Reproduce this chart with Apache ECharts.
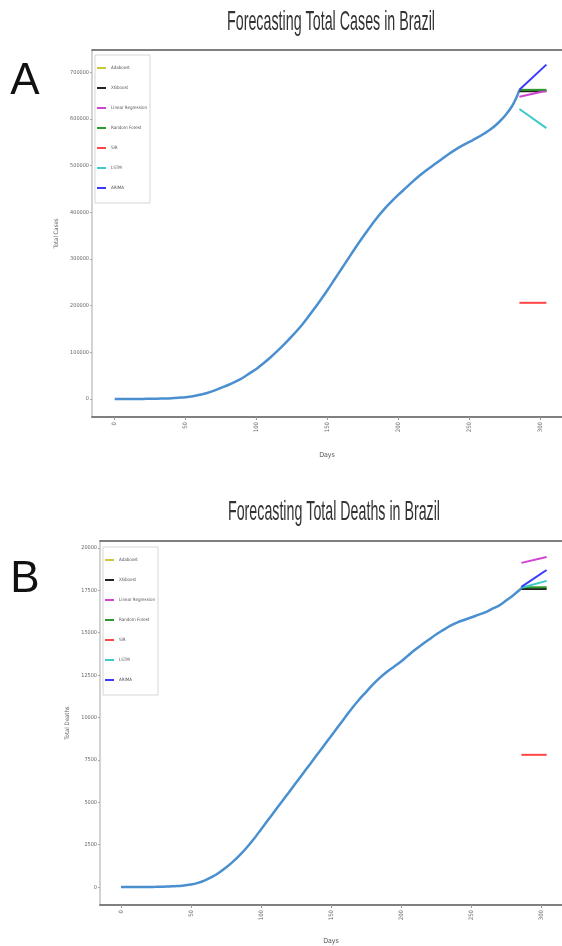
<!DOCTYPE html>
<html>
<head>
<meta charset="utf-8">
<script src="https://cdn.jsdelivr.net/npm/echarts@6/dist/echarts.min.js"></script>
<style>
  html, body { margin: 0; padding: 0; background: #fff; }
  #chart { width: 562px; height: 946px; }
</style>
</head>
<body>
<div id="chart"></div>
<script>
// actual totals
var casesDays = [0, 5, 10, 15, 20, 25, 30, 35, 40, 45, 50, 55, 60, 65, 70, 75, 80, 85, 90, 95, 100, 105, 110, 115, 120, 125, 130, 135, 140, 145, 150, 155, 160, 165, 170, 175, 180, 185, 190, 195, 200, 205, 210, 215, 220, 225, 230, 235, 240, 245, 250, 255, 260, 265, 270, 275, 280, 283, 285]
var casesTotal = [0, 0, 100, 200, 300, 500, 800, 1200, 1800, 2800, 4000, 6000, 9000, 13000, 18000, 24000, 30000, 37000, 45000, 55000, 65000, 77000, 90000, 104000, 119000, 135000, 152000, 171000, 191000, 212000, 234000, 257000, 280000, 303000, 326000, 348000, 369000, 389000, 407000, 423000, 438000, 452000, 466000, 479000, 491000, 502000, 513000, 524000, 534000, 543000, 551000, 559000, 568000, 578000, 591000, 607000, 628000, 646000, 662000]
var deathsDays = [0, 5, 10, 15, 20, 25, 30, 35, 40, 45, 50, 55, 60, 65, 70, 75, 80, 85, 90, 95, 100, 105, 110, 115, 120, 125, 130, 135, 140, 145, 150, 155, 160, 165, 170, 175, 180, 185, 190, 195, 200, 205, 210, 215, 220, 225, 230, 235, 240, 245, 250, 255, 260, 265, 270, 275, 280, 285, 287]
var deathsTotal = [0, 0, 0, 5, 10, 15, 25, 40, 60, 100, 150, 250, 400, 600, 850, 1150, 1500, 1900, 2350, 2850, 3400, 3950, 4500, 5050, 5600, 6150, 6700, 7250, 7800, 8350, 8900, 9450, 10000, 10550, 11050, 11500, 11950, 12350, 12700, 13000, 13300, 13650, 14000, 14300, 14600, 14900, 15150, 15400, 15600, 15750, 15900, 16050, 16200, 16400, 16600, 16900, 17200, 17550, 17700]

// forecasts: one start and one end value per model
var models = ['Adaboost', 'XGboost', 'Linear Regression', 'Random Forest', 'SIR', 'LSTM', 'ARIMA']
var casesForecastDays = [285, 304]
var casesForecastStart = [660000, 659000, 647000, 662000, 206000, 621000, 662000]
var casesForecastEnd = [660000, 659000, 660000, 662000, 206000, 580000, 716000]
var deathsForecastDays = [286, 304]
var deathsForecastStart = [17650, 17580, 19120, 17680, 7800, 17650, 17700]
var deathsForecastEnd = [17650, 17580, 19470, 17680, 7800, 18060, 18700]

// tick labels
var dayTicks = [0, 50, 100, 150, 200, 250, 300]
var casesTicks = [0, 100000, 200000, 300000, 400000, 500000, 600000, 700000]
var deathsTicks = [0, 2500, 5000, 7500, 10000, 12500, 15000, 17500, 20000]

var modelColors = ['#c8c83a', '#222222', '#d043d0', '#2e9a2e', '#ff4545', '#3ccaca', '#3a3aff']
var actualColor = '#4a8fcf'
var smallFont = "'Liberation Sans Narrow', 'DejaVu Sans Condensed', 'Liberation Sans', sans-serif"
var titleFont = "'Liberation Sans', Arial, sans-serif"

var chart = echarts.init(document.getElementById('chart'), null, { renderer: 'canvas' })

// squeeze the titles to the narrow width they have in the picture
function squeeze(text, px, target) {
  var ctx = document.createElement('canvas').getContext('2d')
  ctx.font = px + 'px ' + titleFont
  return target / ctx.measureText(text).width
}

function zip(xs, ys) {
  return xs.map(function (x, i) { return [x, ys[i]] })
}

function panelSeries(idx, days, totals, fDays, fStart, fEnd) {
  var list = [{
    name: 'Actual',
    type: 'line',
    xAxisIndex: idx,
    yAxisIndex: idx,
    data: zip(days, totals),
    showSymbol: false,
    smooth: 0.3,
    lineStyle: { color: actualColor, width: 2.5 },
    itemStyle: { color: actualColor },
    silent: true
  }]
  models.forEach(function (m, k) {
    list.push({
      name: m,
      type: 'line',
      xAxisIndex: idx,
      yAxisIndex: idx,
      data: [[fDays[0], fStart[k]], [fDays[1], fEnd[k]]],
      showSymbol: false,
      lineStyle: { color: modelColors[k], width: 2 },
      itemStyle: { color: modelColors[k] },
      silent: true
    })
  })
  return list
}

function bottomAxis(idx, min, max, gap) {
  return {
    gridIndex: idx,
    type: 'value',
    min: min,
    max: max,
    axisLine: { show: true, onZero: false, lineStyle: { color: '#808080', width: 2 } },
    axisTick: { show: true, customValues: dayTicks, length: 3, lineStyle: { color: '#999' } },
    axisLabel: { customValues: dayTicks, rotate: 90, fontSize: 6, color: '#666', margin: 5, fontFamily: smallFont },
    splitLine: { show: false },
    name: 'Days',
    nameLocation: 'middle',
    nameGap: gap,
    nameTextStyle: { fontSize: 7, color: '#555', fontFamily: smallFont }
  }
}

function topAxis(idx, min, max) {
  return {
    gridIndex: idx,
    type: 'value',
    position: 'top',
    min: min,
    max: max,
    axisLine: { show: true, onZero: false, lineStyle: { color: '#555', width: 1.5 } },
    axisTick: { show: false },
    axisLabel: { show: false },
    splitLine: { show: false }
  }
}

function leftAxis(idx, min, max, ticks, name, gap) {
  return {
    gridIndex: idx,
    type: 'value',
    min: min,
    max: max,
    axisLine: { show: true, onZero: false, lineStyle: { color: '#c4c4c4', width: 1.5 } },
    axisTick: { show: true, customValues: ticks, length: 2, lineStyle: { color: '#aaa' } },
    axisLabel: {
      customValues: ticks,
      fontSize: 5.5,
      color: '#666',
      margin: 3,
      fontFamily: smallFont,
      formatter: function (v) { return String(v) }
    },
    splitLine: { show: false },
    name: name,
    nameLocation: 'middle',
    nameGap: gap,
    nameTextStyle: { fontSize: 6, color: '#666', fontFamily: smallFont }
  }
}

function legendBox(left, top) {
  return {
    data: models,
    orient: 'vertical',
    left: left,
    top: top,
    padding: [9, 3, 11, 2],
    itemGap: 12,
    itemWidth: 9,
    itemHeight: 2,
    icon: 'rect',
    backgroundColor: '#fff',
    borderColor: '#d6d6d6',
    borderWidth: 1,
    textStyle: { fontSize: 4.5, lineHeight: 8, color: '#555', fontFamily: smallFont },
    selectedMode: false
  }
}

var titleA = 'Forecasting Total Cases in Brazil'
var titleB = 'Forecasting Total Deaths in Brazil'

function titleText(text, x, y, target) {
  return {
    type: 'text',
    x: x,
    y: y,
    scaleX: squeeze(text, 28, target),
    style: {
      text: text,
      font: '28px ' + titleFont,
      fill: '#333',
      textAlign: 'center',
      align: 'center',
      textVerticalAlign: 'middle',
      verticalAlign: 'middle'
    }
  }
}

function panelLetter(text, x, y) {
  return {
    type: 'text',
    x: x,
    y: y,
    style: {
      text: text,
      font: '44px ' + titleFont,
      fill: '#111',
      textAlign: 'center',
      align: 'center',
      textVerticalAlign: 'middle',
      verticalAlign: 'middle'
    }
  }
}

var option = {
  backgroundColor: '#fff',
  animation: false,
  graphic: [
    titleText(titleA, 331, 22, 208),
    titleText(titleB, 334, 512, 212),
    panelLetter('A', 25, 82),
    panelLetter('B', 25, 580)
  ],
  legend: [legendBox(95, 55), legendBox(103, 547)],
  grid: [
    { left: 92, top: 50, width: 472, height: 367 },
    { left: 100, top: 541, width: 464, height: 366 }
  ],
  xAxis: [
    bottomAxis(0, -16, 315, 35),
    bottomAxis(1, -15, 315, 33),
    topAxis(0, -16, 315),
    topAxis(1, -15, 315)
  ],
  yAxis: [
    leftAxis(0, -38500, 747300, casesTicks, 'Total Cases', 26),
    leftAxis(1, -1056, 20410, deathsTicks, 'Total Deaths', 25)
  ],
  series: panelSeries(0, casesDays, casesTotal, casesForecastDays, casesForecastStart, casesForecastEnd)
    .concat(panelSeries(1, deathsDays, deathsTotal, deathsForecastDays, deathsForecastStart, deathsForecastEnd))
}

chart.setOption(option)
</script>
</body>
</html>
